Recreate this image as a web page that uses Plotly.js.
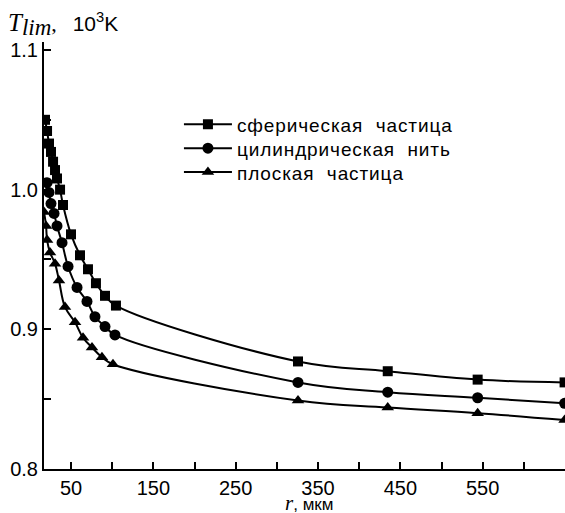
<!DOCTYPE html>
<html>
<head>
<meta charset="utf-8">
<script src="https://cdn.plot.ly/plotly-3.0.1.min.js"></script>
<style>html,body{margin:0;padding:0;background:#fff;}#chart{width:565px;height:513px;}</style>
</head>
<body>
<div id="chart"></div>
<script>
// Series names
const seriesNames = ["сферическая  частица", "цилиндрическая  нить", "плоская  частица"];

// Spherical particle (squares)
const rSphere = [18.4, 20.9, 23.3, 25.7, 28.2, 30.6, 33.0, 36.7, 40.3, 50.0, 60.9, 70.6, 80.3, 91.3, 104.6, 325.7, 434.7, 543.9, 649.5];
const tSphere = [1.050, 1.042, 1.033, 1.027, 1.020, 1.014, 1.008, 1.000, 0.989, 0.968, 0.953, 0.943, 0.933, 0.924, 0.917, 0.877, 0.870, 0.864, 0.862];

// Cylindrical filament (circles)
const rCyl = [20.9, 23.3, 25.7, 29.4, 33.0, 39.1, 46.4, 57.3, 69.4, 79.1, 91.3, 103.4, 325.7, 434.7, 543.9, 649.5];
const tCyl = [1.005, 0.998, 0.990, 0.983, 0.974, 0.962, 0.945, 0.930, 0.920, 0.909, 0.902, 0.896, 0.862, 0.855, 0.851, 0.847];

// Flat particle (triangles)
const rFlat = [17.2, 19.7, 20.9, 24.5, 30.6, 35.4, 42.7, 54.9, 64.6, 75.5, 87.6, 101.0, 325.7, 434.7, 543.9, 649.5];
const tFlat = [0.984, 0.974, 0.964, 0.955, 0.947, 0.935, 0.916, 0.905, 0.894, 0.887, 0.880, 0.875, 0.849, 0.844, 0.840, 0.835];

const symbols = ["square", "circle", "triangle-up"];
const sizes = [10, 11, 11];
const xs = [rSphere, rCyl, rFlat];
const ys = [tSphere, tCyl, tFlat];
const legendIds = ["legend", "legend2", "legend3"];

const traces = xs.map((x, i) => ({
  x: x, y: ys[i], type: "scatter", mode: "lines+markers",
  name: "<span style='letter-spacing:0.9px'>" + seriesNames[i].replace("  ", "\u00a0 ") + "</span>",
  line: {color: "#000", width: 2, shape: "spline", smoothing: 1.1},
  marker: {color: "#000", symbol: symbols[i], size: sizes[i]},
  legend: legendIds[i]
}));

const axisFont = {family: "Arial, 'Liberation Sans', sans-serif", size: 20, color: "#000"};
const legFont = {family: "Arial, 'Liberation Sans', sans-serif", size: 19, color: "#000"};
// legend row centres (paper y) for the three entries
const legendRowY = [0.807, 0.751, 0.695];

const layout = {
  width: 565, height: 513,
  margin: {l: 44, r: 0, t: 42, b: 44, pad: 0},
  paper_bgcolor: "#fff", plot_bgcolor: "#fff",
  showlegend: true,
  xaxis: {range: [17.2, 650], showgrid: false, zeroline: false, showline: true, linewidth: 2, linecolor: "#000",
          ticks: "inside", ticklen: 7, tickwidth: 2, tickcolor: "#000", tick0: 50, dtick: 100,
          minor: {tick0: 0, dtick: 50, ticks: "inside", ticklen: 7, tickwidth: 2, tickcolor: "#000"},
          tickfont: axisFont},
  yaxis: {range: [0.8, 1.1057], showgrid: false, zeroline: false, showline: true, linewidth: 2, linecolor: "#000",
          ticks: "inside", ticklen: 7, tickwidth: 2, tickcolor: "#000", tick0: 0.8, dtick: 0.1, tickformat: ".1f",
          minor: {tick0: 0.8, dtick: 0.05, ticks: "inside", ticklen: 7, tickwidth: 2, tickcolor: "#000"},
          tickfont: axisFont},
  annotations: [
    {xref: "paper", yref: "paper", x: -0.072, y: 1.04, xanchor: "left", yanchor: "middle", showarrow: false,
     text: "<span style='font-family:Liberation Serif, DejaVu Serif, serif;font-size:25px'><i>T</i></span><sub><span style='font-family:Liberation Serif, serif;font-size:23px'><i>lim</i></span></sub><span style='font-family:Liberation Serif, serif;font-size:22px'>,</span>   <span style='font-size:21px'>10<sup>3</sup>K</span>",
     font: {family: "Arial, 'Liberation Sans', sans-serif", size: 19, color: "#000"}},
    {xref: "paper", yref: "paper", x: 0.509, y: -0.079, xanchor: "center", yanchor: "middle", showarrow: false,
     text: "<span style='font-family:Liberation Serif, serif;font-size:21px'><i>r</i></span>, мкм",
     font: {family: "Arial, 'Liberation Sans', sans-serif", size: 17, color: "#000"}}
  ]
};
legendIds.forEach((id, i) => {
  layout[id] = {x: 0.259, y: legendRowY[i], xanchor: "left", yanchor: "middle", bgcolor: "rgba(0,0,0,0)",
                font: legFont, itemwidth: 48};
});

Plotly.newPlot("chart", traces, layout, {displayModeBar: false, staticPlot: true});
</script>
</body>
</html>
